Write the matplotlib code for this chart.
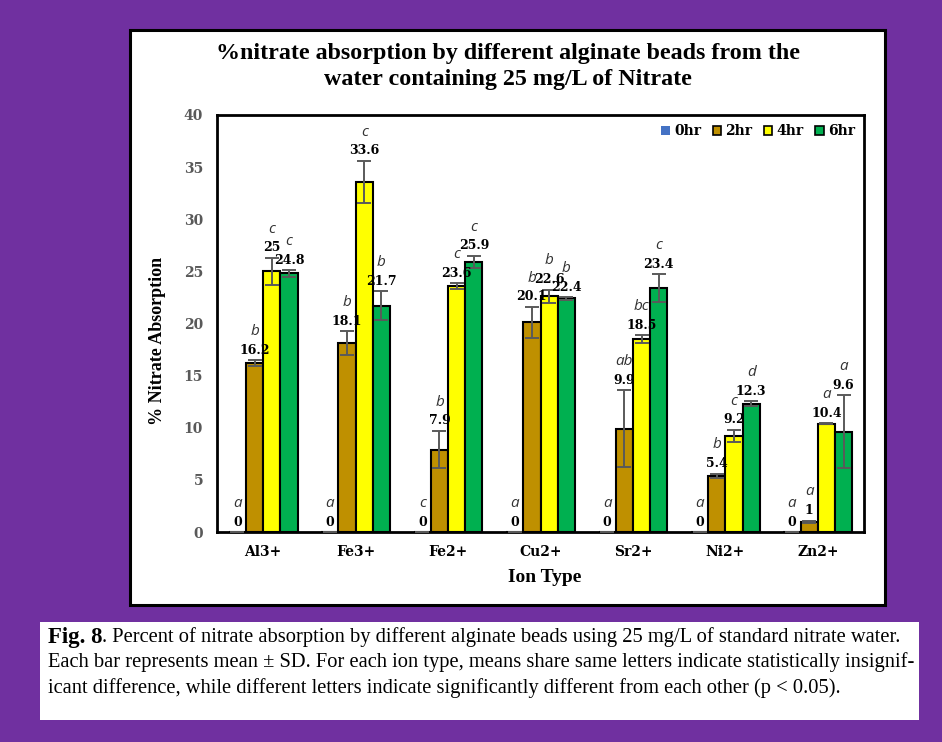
import matplotlib
matplotlib.use("Agg")
import matplotlib.pyplot as plt
from matplotlib.patches import Rectangle, Patch
import numpy as np

# ---- data ----
ions = ["Al3+", "Fe3+", "Fe2+", "Cu2+", "Sr2+", "Ni2+", "Zn2+"]
series_names = ["0hr", "2hr", "4hr", "6hr"]

vals_0hr = [0, 0, 0, 0, 0, 0, 0]
vals_2hr = [16.2, 18.1, 7.9, 20.1, 9.9, 5.4, 1]
vals_4hr = [25, 33.6, 23.6, 22.6, 18.5, 9.2, 10.4]
vals_6hr = [24.8, 21.7, 25.9, 22.4, 23.4, 12.3, 9.6]

sd_0hr = [0, 0, 0, 0, 0, 0, 0]
sd_2hr = [0.3, 1.15, 1.8, 1.5, 3.7, 0.2, 0.1]
sd_4hr = [1.3, 2.0, 0.27, 0.65, 0.4, 0.6, 0.05]
sd_6hr = [0.3, 1.4, 0.6, 0.1, 1.35, 0.25, 3.5]

letters_0hr = ["a", "a", "c", "a", "a", "a", "a"]
letters_2hr = ["b", "b", "b", "b", "ab", "b", "a"]
letters_4hr = ["c", "c", "c", "b", "bc", "c", "a"]
letters_6hr = ["c", "b", "c", "b", "c", "d", "a"]

yticks = [0, 5, 10, 15, 20, 25, 30, 35, 40]

# ---- styling ----
colors = ["#4472C4", "#BF9000", "#FFFF00", "#00B050"]
purple = "#7030A0"
W, H = 942, 742

values = [vals_0hr, vals_2hr, vals_4hr, vals_6hr]
sds = [sd_0hr, sd_2hr, sd_4hr, sd_6hr]
letters = [letters_0hr, letters_2hr, letters_4hr, letters_6hr]

fig = plt.figure(figsize=(W / 100, H / 100), dpi=100, facecolor=purple)

def fx(px):
    return px / W

def fy(py):
    return 1 - py / H

# white chart panel and caption panel (behind the axes)
fig.patches.append(Rectangle((fx(130), fy(605)), fx(885) - fx(130), fy(30) - fy(605),
                             transform=fig.transFigure, facecolor="white",
                             edgecolor="black", linewidth=2.2, zorder=-5))
fig.patches.append(Rectangle((fx(40), fy(720)), fx(919) - fx(40), fy(622) - fy(720),
                             transform=fig.transFigure, facecolor="white",
                             edgecolor="none", zorder=-5))

ax = fig.add_axes([fx(217), fy(532), fx(864) - fx(217), fy(115) - fy(532)])
ax.set_zorder(2)
ax.set_facecolor("white")

x = np.arange(len(ions))
bw = 0.186
offsets = (np.arange(4) - 1.5) * bw

for i in range(4):
    xs = x + offsets[i]
    ax.bar(xs, values[i], width=bw, color=colors[i], edgecolor="black",
           linewidth=1.5, zorder=2)
    ax.errorbar(xs, values[i], yerr=sds[i], fmt="none", ecolor="#5a5a5a",
                elinewidth=1.4, capsize=5, capthick=1.4, zorder=3)
    for j in range(len(ions)):
        v = values[i][j]
        top = v + sds[i][j]
        ylab = top + 0.95
        txt = f"{v:g}"
        ax.text(xs[j], ylab, txt, ha="center", va="center",
                fontsize=9, fontweight="bold", family="DejaVu Serif",
                color="black", zorder=4)
        ax.text(xs[j], ylab + 1.8, letters[i][j], ha="center", va="center",
                fontsize=11, style="italic", family=["Open Sans", "DejaVu Sans"],
                color="#333333", zorder=4)

ax.set_xlim(-0.5, len(ions) - 0.5)
ax.set_ylim(0, 40)
ax.set_yticks(yticks)
ax.set_yticklabels([str(t) for t in yticks], fontsize=10, fontweight="bold",
                   family="DejaVu Serif", color="#595959")
ax.set_xticks(x)
ax.set_xticklabels(ions, fontsize=10, fontweight="bold", family="DejaVu Serif",
                   color="black")
ax.tick_params(axis="both", length=0, pad=10)
ax.tick_params(axis="x", pad=9)
for s in ax.spines.values():
    s.set_linewidth(2)
    s.set_color("black")

# legend
handles = [Patch(facecolor=colors[0], edgecolor="none")] + \
          [Patch(facecolor=c, edgecolor="black", linewidth=1.2) for c in colors[1:]]
leg = ax.legend(handles, series_names, loc="upper right", ncol=4, frameon=False,
                handlelength=0.6, handleheight=0.6, handletextpad=0.3,
                columnspacing=0.85, borderaxespad=0.25,
                prop={"family": "DejaVu Serif", "weight": "bold", "size": 10})

# titles and axis labels
fig.text(fx(508), fy(54), "%nitrate absorption by different alginate beads from the",
         ha="center", va="center", fontsize=17.3, fontweight="bold",
         family="Liberation Serif")
fig.text(fx(508), fy(79), "water containing 25 mg/L of Nitrate",
         ha="center", va="center", fontsize=17.3, fontweight="bold",
         family="Liberation Serif")
fig.text(fx(158), fy(341), "% Nitrate Absorption", rotation=90,
         ha="center", va="center", fontsize=13, fontweight="bold",
         family="Liberation Serif")
fig.text(fx(545), fy(578), "Ion Type", ha="center", va="center",
         fontsize=14, fontweight="bold", family="Liberation Serif")

# caption
cap_kw = dict(ha="left", va="center", fontsize=14.8, family="Liberation Serif",
              color="black")
t1 = fig.text(fx(48), fy(637), "Fig. 8", fontweight="bold", fontsize=16.5,
              ha="left", va="center", family="Liberation Serif")
fig.canvas.draw()
bb = t1.get_window_extent()
fig.text(bb.x1 / W, fy(637),
         ". Percent of nitrate absorption by different alginate beads using 25 mg/L of standard nitrate water.",
         **cap_kw)
fig.text(fx(48), fy(662),
         "Each bar represents mean \u00b1 SD. For each ion type, means share same letters indicate statistically insignif-",
         **cap_kw)
fig.text(fx(48), fy(688),
         "icant difference, while different letters indicate significantly different from each other (p < 0.05).",
         **cap_kw)

fig.savefig("out.png", dpi=100, facecolor=purple)
